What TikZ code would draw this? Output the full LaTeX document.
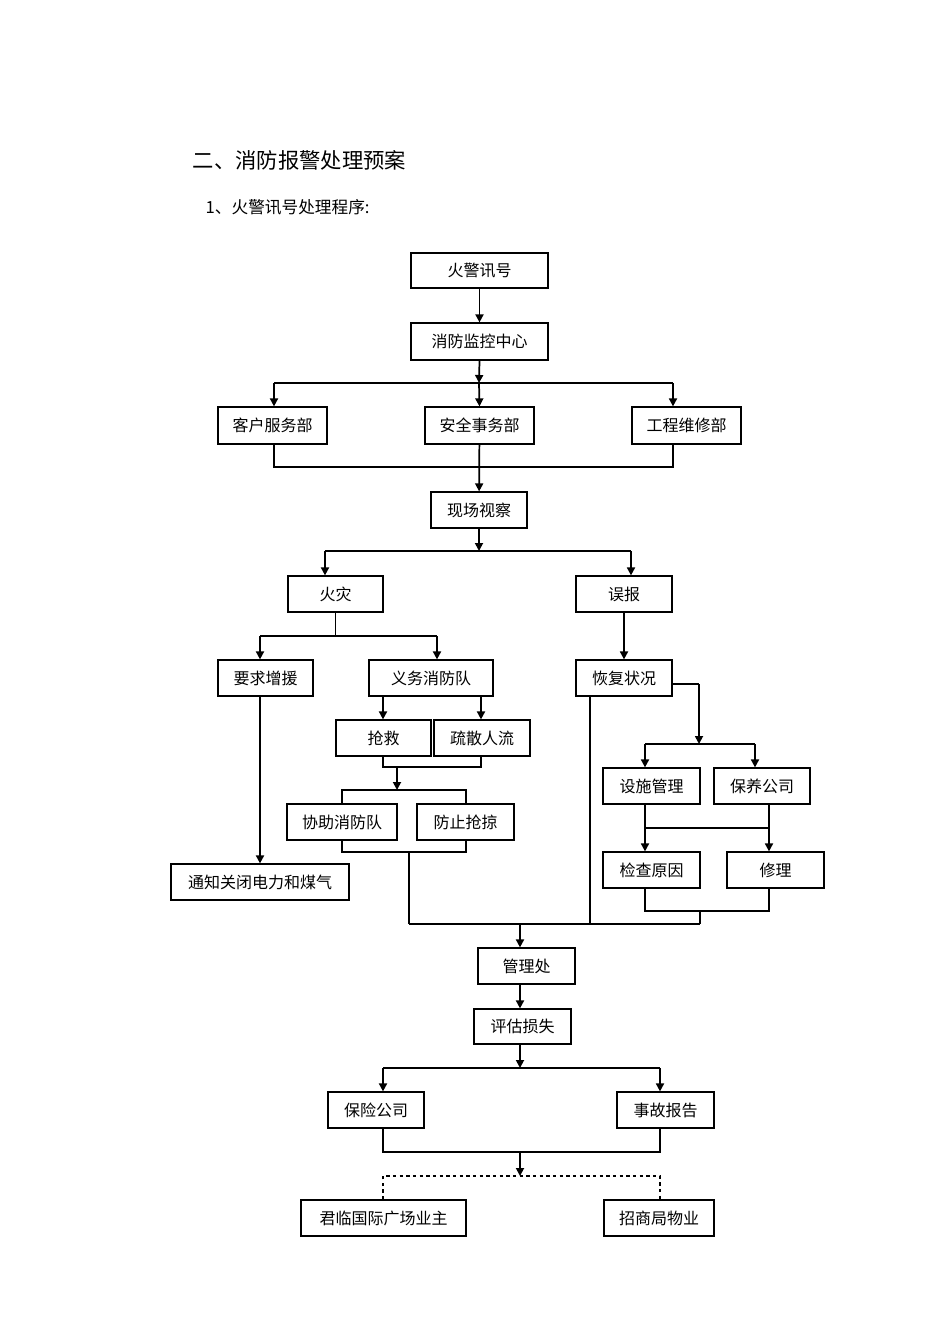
\documentclass[tikz,border=0pt]{standalone}
\usepackage{fontspec}
\setmainfont{Noto Sans CJK SC}
\usetikzlibrary{arrows.meta}
\newcommand{\bx}[6]{\node[bx,minimum width={(#3-#2)*0.75pt},minimum height={(#5-#4)*0.75pt}] (#1) at ({(#2+#3)/2},{(#4+#5)/2}) {#6};}
\begin{document}
\begin{tikzpicture}[x=0.75pt,y=-0.75pt,
  bx/.style={draw,line width=0.9pt,inner sep=0pt,font=\fontsize{12}{14}\selectfont},
  ar/.style={line width=1.3pt,-{Triangle[length=6pt,width=6pt]}},
  ln/.style={line width=0.8pt},
  tk/.style={line width=1.3pt}]
\useasboundingbox (0,0) rectangle (950,1344);
\node[anchor=west,font=\fontsize{16}{18}\selectfont] (t1) at (188,160) {二、消防报警处理预案};
\node[anchor=west,font=\fontsize{12.5}{14}\selectfont] (t2) at (201,207) {1、火警讯号处理程序:};
\bx{a}{411}{548}{253}{288}{火警讯号}
\bx{b}{411}{548}{323}{360}{消防监控中心}
\bx{c1}{218}{327}{407}{444}{客户服务部}
\bx{c2}{425}{534}{407}{444}{安全事务部}
\bx{c3}{632}{741}{407}{444}{工程维修部}
\bx{d}{431}{527}{492}{528}{现场视察}
\bx{e1}{288}{383}{576}{612}{火灾}
\bx{e2}{576}{672}{576}{612}{误报}
\bx{f1}{218}{313}{660}{696}{要求增援}
\bx{f2}{369}{493}{660}{696}{义务消防队}
\bx{f3}{576}{672}{660}{696}{恢复状况}
\bx{g1}{336}{431}{720}{756}{抢救}
\bx{g2}{434}{530}{720}{756}{疏散人流}
\bx{h1}{287}{397}{804}{840}{协助消防队}
\bx{h2}{417}{514}{804}{840}{防止抢掠}
\bx{n}{171}{349}{864}{900}{通知关闭电力和煤气}
\bx{i1}{603}{700}{768}{804}{设施管理}
\bx{i2}{714}{810}{768}{804}{保养公司}
\bx{j1}{603}{700}{852}{888}{检查原因}
\bx{j2}{727}{824}{852}{888}{修理}
\bx{k}{478}{575}{948}{984}{管理处}
\bx{l}{474}{571}{1009}{1044}{评估损失}
\bx{m1}{328}{424}{1092}{1128}{保险公司}
\bx{m2}{617}{714}{1092}{1128}{事故报告}
\bx{o1}{301}{466}{1200}{1236}{君临国际广场业主}
\bx{o2}{604}{714}{1200}{1236}{招商局物业}
% top
\draw[ar] (a) -- (b);
\draw[ar] (b.south) -- (479,383);
\coordinate (b1) at (274,383); \coordinate (b3) at (673,383);
\draw[tk] (b1) -- (b3);
\draw[ar] (b1) -- (b1 |- c1.north);
\draw[ar] (479,383) -- (c2.north);
\draw[ar] (b3) -- (b3 |- c3.north);
\draw[ln] (b1 |- c1.south) -- (274,467) -- (673,467) -- (b3 |- c3.south);
\draw[ar] (c2) -- (d);
% split
\coordinate (s1) at (325,551); \coordinate (s2) at (631,551);
\draw[ar] (d.south) -- (479,551);
\draw[tk] (s1) -- (s2);
\draw[ar] (s1) -- (s1 |- e1.north);
\draw[ar] (s2) -- (s2 |- e2.north);
% fire branch
\coordinate (p1) at (260,636); \coordinate (p2) at (437,636);
\draw[ln] (e1.south) -- (e1.south |- p1);
\draw[ln] (p1) -- (p2);
\draw[ar] (p1) -- (p1 |- f1.north);
\draw[ar] (p2) -- (p2 |- f2.north);
\draw[ar] (f1.south -| 260,0) -- (n.north -| 260,0);
\draw[ar] (f2.south -| 383,0) -- (g1.north -| 383,0);
\draw[ar] (f2.south -| 481,0) -- (g2.north -| 481,0);
\draw[ln] (g1.south -| 383,0) -- (383,767) -- (481,767) -- (g2.south -| 481,0);
\draw[ar] (397,767) -- (397,790);
\draw[ln] (h1.north -| 342,0) -- (342,790) -- (466,790) -- (h2.north -| 466,0);
\draw[ln] (h1.south -| 342,0) -- (342,852) -- (466,852) -- (h2.south -| 466,0);
\draw[ln] (409,852) -- (409,924);
% false alarm branch
\draw[ar] (e2) -- (f3);
\draw[ln] (f3.south -| 590,0) -- (590,924);
\draw[ln] (f3.east |- 0,684) -- (699,684);
\draw[ar] (699,684) -- (699,744);
\draw[ln] (645,744) -- (755,744);
\draw[ar] (645,744) -- (i1.north -| 645,0);
\draw[ar] (755,744) -- (i2.north -| 755,0);
\draw[ln] (i1.south -| 645,0) -- (645,828);
\draw[ln] (i2.south -| 769,0) -- (769,828);
\draw[tk] (645,828) -- (769,828);
\draw[ar] (645,828) -- (j1.north -| 645,0);
\draw[ar] (769,828) -- (j2.north -| 769,0);
\draw[ln] (j1.south -| 645,0) -- (645,911) -- (769,911) -- (j2.south -| 769,0);
\draw[ln] (700,911) -- (700,924);
% merge
\draw[ln] (409,924) -- (700,924);
\draw[ar] (520,924) -- (k.north -| 520,0);
\draw[ar] (k.south -| 520,0) -- (l.north -| 520,0);
\draw[ar] (l.south -| 520,0) -- (520,1068);
\draw[ln] (383,1068) -- (660,1068);
\draw[ar] (383,1068) -- (m1.north -| 383,0);
\draw[ar] (660,1068) -- (m2.north -| 660,0);
\draw[ln] (m1.south -| 383,0) -- (383,1152) -- (660,1152) -- (m2.south -| 660,0);
\draw[ar] (520,1152) -- (520,1176);
\draw[line width=2.2pt,dash pattern=on 2.5pt off 2.5pt] (o1.north -| 383,0) -- (383,1176) -- (660,1176) -- (o2.north -| 660,0);
\end{tikzpicture}
\end{document}
